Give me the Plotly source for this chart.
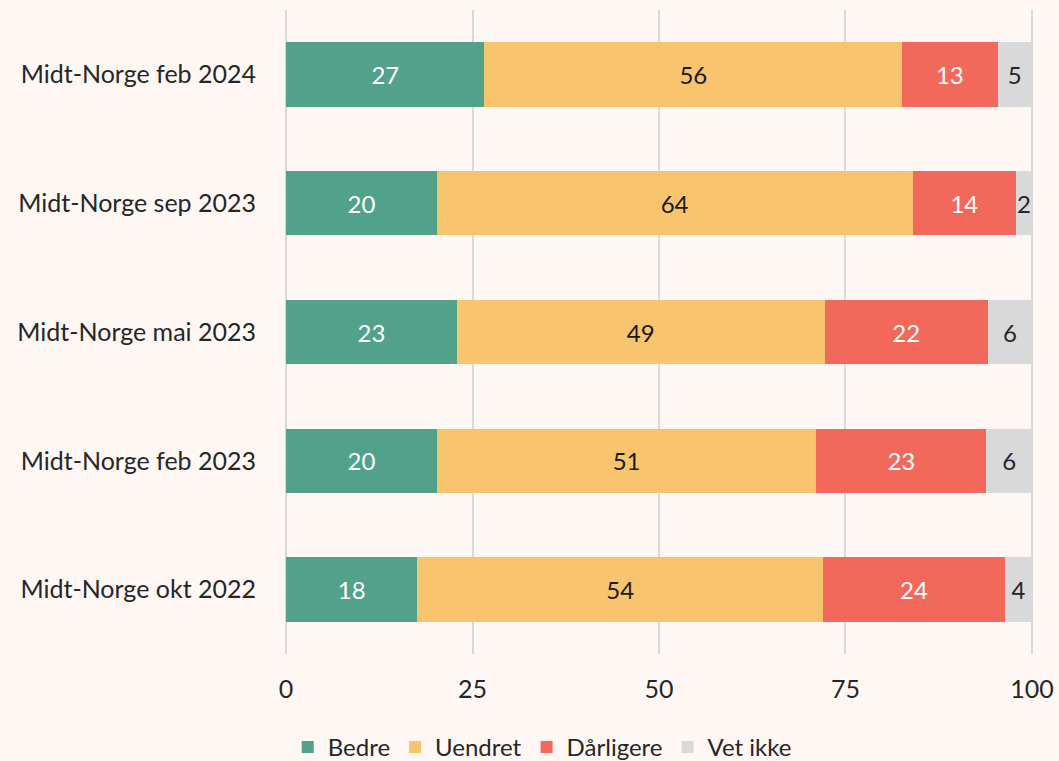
import plotly.graph_objects as go

categories = ["Midt-Norge okt 2022", "Midt-Norge feb 2023", "Midt-Norge mai 2023",
              "Midt-Norge sep 2023", "Midt-Norge feb 2024"]
bedre = [17.6, 20.2, 22.9, 20.2, 26.6]
uendret = [54.4, 50.9, 49.3, 63.8, 56.0]
darligere = [24.4, 22.8, 21.9, 13.9, 12.8]
vet_ikke = [3.6, 6.1, 5.9, 2.1, 4.6]
x_ticks = [0, 25, 50, 75, 100]

series = [
    ("Bedre", bedre, "#52A18A", "white"),
    ("Uendret", uendret, "#F9C46E", "#1a1a1a"),
    ("Dårligere", darligere, "#F2695C", "white"),
    ("Vet ikke", vet_ikke, "#D9D9D9", "#262626"),
]

fig = go.Figure()
for name, vals, color, tcol in series:
    fig.add_trace(go.Bar(
        y=categories, x=vals, name=name, orientation="h",
        marker=dict(color=color, line=dict(width=0)),
        text=[f"{round(v):d}" for v in vals],
        textposition="inside", insidetextanchor="middle",
        textfont=dict(color=tcol, size=24, family="Lato"),
        constraintext="none",
        hoverinfo="skip",
    ))

fig.update_layout(
    barmode="stack", bargap=0.5,
    width=1059, height=761,
    paper_bgcolor="#FFF7F4", plot_bgcolor="#FFF7F4",
    margin=dict(l=285, r=26, t=10, b=107, autoexpand=False),
    font=dict(family="Lato", size=25, color="#262626"),
    uniformtext=dict(minsize=24, mode="show"),
    legend=dict(orientation="h", x=0.512, xanchor="center", xref="container",
                y=0.018, yanchor="middle", yref="container",
                font=dict(size=24), traceorder="normal", itemwidth=30),
    xaxis=dict(range=[-0.15, 100.15], tickvals=x_ticks, ticktext=[str(t) for t in x_ticks],
               showgrid=True, gridcolor="#D9D9D9", gridwidth=2,
               zeroline=False, showline=False, ticks="", ticklabelstandoff=18),
    yaxis=dict(categoryorder="array", categoryarray=categories,
               showgrid=False, zeroline=False, showline=False, ticks="",
               ticklabelstandoff=28),
)

fig.write_html(
    "out.html",
    config={"displayModeBar": False},
    post_script="document.body.style.margin='0';document.body.style.overflow='hidden';"
                "document.body.style.background='#FFF7F4';",
)
